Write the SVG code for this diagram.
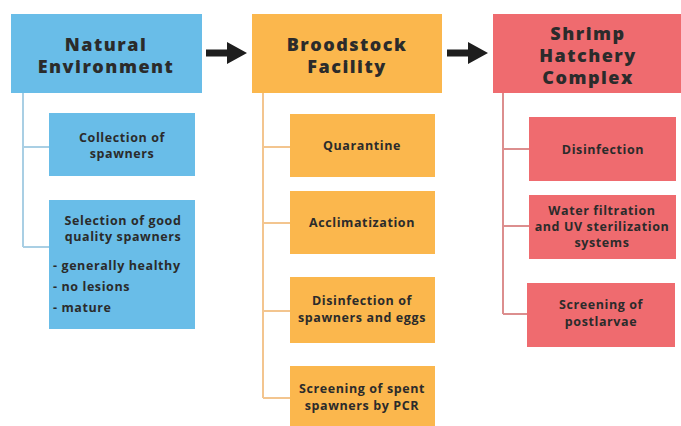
<svg xmlns="http://www.w3.org/2000/svg" width="681" height="426" viewBox="0 0 681 426">
  <style>
    .hdr { font-family: "Open Sans", "DejaVu Sans", sans-serif; font-weight: 800; font-size: 18px; letter-spacing: 1.5px; fill: #2b2b2b; text-anchor: middle; }
    .sub { font-family: "Open Sans", "DejaVu Sans", sans-serif; font-weight: 700; font-size: 12.5px; letter-spacing: 0.6px; fill: #2b2b2b; text-anchor: middle; }
    .lst { text-anchor: start; }
    .blue { fill: #69bde8; }
    .orange { fill: #fbb74d; }
    .red { fill: #ef6b6f; }
    .tb { stroke: #a9cfe4; stroke-width: 2; fill: none; }
    .to { stroke: #f3c58f; stroke-width: 2; fill: none; }
    .tr { stroke: #dc8e8e; stroke-width: 2; fill: none; }
  </style>
  <defs>
    <path id="arrow" d="M0,-3.5 H21 V-11 L41,0 L21,11 V3.5 H0 Z" fill="#1e1e1e"/>
  </defs>
  <rect width="681" height="426" fill="#ffffff"/>

  <!-- connectors: flow arrows and tree branches -->
  <g id="connectors">
    <use href="#arrow" x="206" y="53"/>
    <use href="#arrow" x="447" y="53"/>
    <path class="tb" d="M23,93 V247 M23,147 H49 M23,247 H49"/>
    <path class="to" d="M263,93 V398 M263,147 H290 M263,223 H290 M263,311 H290 M263,398 H290"/>
    <path class="tr" d="M503,93 V314 M503,149 H529 M503,226 H529 M503,314 H527"/>
  </g>

  <!-- column 1 -->
  <g id="natural-environment">
    <rect class="blue" x="11" y="14" width="191" height="79"/>
    <text class="hdr"><tspan x="106" y="51">Natural</tspan><tspan x="106" y="73">Environment</tspan></text>
  </g>
  <g id="collection">
    <rect class="blue" x="49" y="113" width="146" height="63"/>
    <text class="sub"><tspan x="122" y="142">Collection of</tspan><tspan x="122" y="158">spawners</tspan></text>
  </g>
  <g id="selection">
    <rect class="blue" x="49" y="200" width="146" height="129"/>
    <text class="sub"><tspan x="123" y="225">Selection of good</tspan><tspan x="123" y="241">quality spawners</tspan></text>
    <text class="sub lst"><tspan x="53" y="270">- generally healthy</tspan><tspan x="53" y="291">- no lesions</tspan><tspan x="53" y="312">- mature</tspan></text>
  </g>

  <!-- column 2 -->
  <g id="broodstock-facility">
    <rect class="orange" x="252" y="14" width="190" height="79"/>
    <text class="hdr"><tspan x="347" y="51">Broodstock</tspan><tspan x="347" y="73">Facility</tspan></text>
  </g>
  <g id="quarantine">
    <rect class="orange" x="290" y="114" width="145" height="63"/>
    <text class="sub" x="362" y="150">Quarantine</text>
  </g>
  <g id="acclimatization">
    <rect class="orange" x="290" y="191" width="145" height="63"/>
    <text class="sub" x="362" y="227">Acclimatization</text>
  </g>
  <g id="disinfection-eggs">
    <rect class="orange" x="290" y="277" width="145" height="66"/>
    <text class="sub"><tspan x="362" y="305">Disinfection of</tspan><tspan x="362" y="322">spawners and eggs</tspan></text>
  </g>
  <g id="screening-pcr">
    <rect class="orange" x="290" y="366" width="145" height="62"/>
    <text class="sub"><tspan x="362" y="393">Screening of spent</tspan><tspan x="362" y="410">spawners by PCR</tspan></text>
  </g>

  <!-- column 3 -->
  <g id="shrimp-hatchery-complex">
    <rect class="red" x="493" y="14" width="188" height="79"/>
    <text class="hdr"><tspan x="588" y="40">Shrimp</tspan><tspan x="588" y="62">Hatchery</tspan><tspan x="588" y="84">Complex</tspan></text>
  </g>
  <g id="disinfection">
    <rect class="red" x="529" y="117" width="147" height="64"/>
    <text class="sub" x="603" y="154">Disinfection</text>
  </g>
  <g id="water-filtration">
    <rect class="red" x="529" y="195" width="147" height="64"/>
    <text class="sub"><tspan x="602" y="215">Water filtration</tspan><tspan x="602" y="231">and UV sterilization</tspan><tspan x="602" y="247">systems</tspan></text>
  </g>
  <g id="screening-postlarvae">
    <rect class="red" x="527" y="283" width="148" height="64"/>
    <text class="sub"><tspan x="601" y="309">Screening of</tspan><tspan x="601" y="326">postlarvae</tspan></text>
  </g>
</svg>
